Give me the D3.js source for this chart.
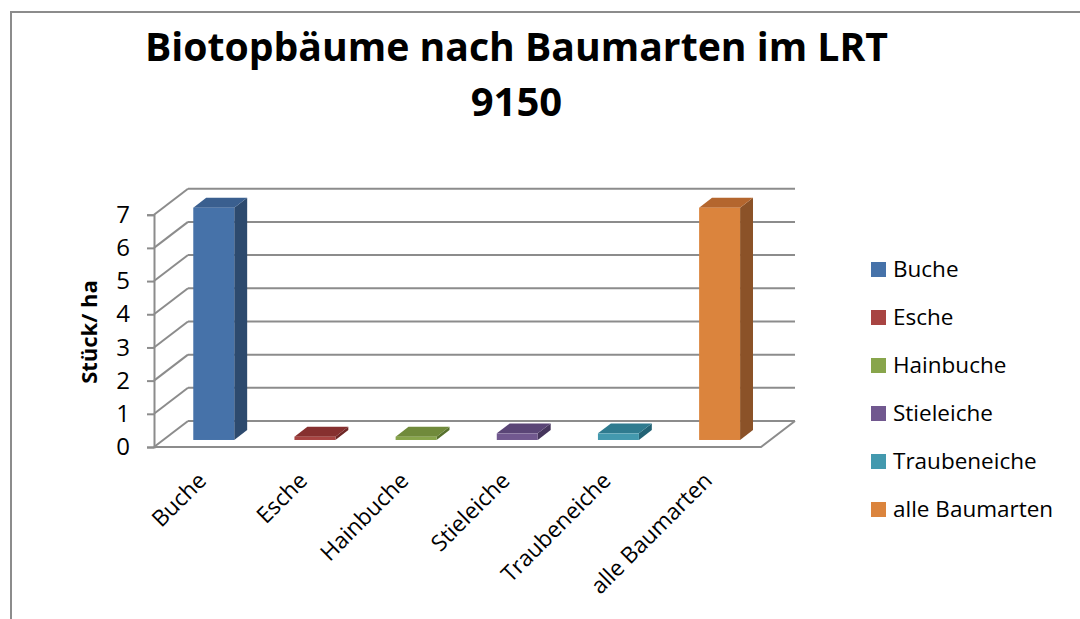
<!DOCTYPE html>
<html>
<head>
<meta charset="utf-8">
<script src="https://cdn.jsdelivr.net/npm/d3@7"></script>
<style>
  body { margin: 0; background: #fff; }
  text { font-family: "Open Sans", sans-serif; fill: #000; }
</style>
</head>
<body>
<div id="chart"></div>
<script>
// Biotopbaeume nach Baumarten - 3D-Saeulen im Excel-Stil
var categories = ['Buche', 'Esche', 'Hainbuche', 'Stieleiche', 'Traubeneiche', 'alle Baumarten'];
var values = [7, 0.1, 0.1, 0.2, 0.2, 7];
var yTicks = [0, 1, 2, 3, 4, 5, 6, 7];
var titleLines = ['Biotopbäume nach Baumarten im LRT', '9150'];
var yTitle = 'Stück/ ha';

var width = 1080,
    height = 619,
    plot = { left: 154, right: 761, bottom: 447, top: 214.7 },
    depth = { dx: 34, dy: -26 },
    barDepth = [0.27, 0.65],
    grid = '#8c8c8c';

var frontShade = ['#4672a9', '#a84442', '#88a54b', '#71588f', '#4399ae', '#db843d'];
var topShade = ['#3a5f8f', '#86302f', '#708a3b', '#5a4576', '#2f7b8f', '#b4662e'];
var sideShade = ['#2d4a6e', '#6e2625', '#56702c', '#45355c', '#236375', '#8b5228'];

var color = d3.scaleOrdinal().domain(categories).range(frontShade);

var svg = d3.select('#chart').append('svg')
    .attr('width', width)
    .attr('height', height);

// Rahmen
svg.append('rect')
    .attr('x', 11).attr('y', 12)
    .attr('width', 1200).attr('height', 800)
    .attr('fill', 'none')
    .attr('stroke', grid)
    .attr('stroke-width', 2);

var x = d3.scaleBand()
    .domain(categories)
    .range([plot.left, plot.right])
    .paddingInner(0.595)
    .paddingOuter(0.2975);

var y = d3.scaleLinear()
    .domain([0, 7])
    .range([plot.bottom, plot.top]);

// Titel
svg.append('g').selectAll('text')
    .data(titleLines)
    .enter().append('text')
    .attr('x', 516.5)
    .attr('y', function(d, i) { return 61 + i * 55; })
    .attr('text-anchor', 'middle')
    .style('font-size', '40px')
    .style('font-weight', 'bold')
    .text(function(d) { return d; })
    .each(function(d, i) {
        if (i === 0) {
            d3.select(this).attr('textLength', 743).attr('lengthAdjust', 'spacingAndGlyphs');
        }
    });

// Gitter: Rueckwand und Seitenwand
var gridG = svg.append('g')
    .attr('stroke', grid)
    .attr('stroke-width', 2)
    .attr('fill', 'none');

gridG.selectAll('.back')
    .data(yTicks)
    .enter().append('line')
    .attr('class', 'back')
    .attr('x1', plot.left + depth.dx)
    .attr('x2', plot.right + depth.dx)
    .attr('y1', function(d) { return y(d) + depth.dy; })
    .attr('y2', function(d) { return y(d) + depth.dy; });

gridG.selectAll('.wall')
    .data(yTicks)
    .enter().append('line')
    .attr('class', 'wall')
    .attr('x1', plot.left)
    .attr('x2', plot.left + depth.dx)
    .attr('y1', function(d) { return y(d); })
    .attr('y2', function(d) { return y(d) + depth.dy; });

// Boden
gridG.append('polyline')
    .attr('points', [
        [plot.left, y(0)],
        [plot.right, y(0)],
        [plot.right + depth.dx, y(0) + depth.dy]
    ].join(' '));

// y-Achse
var yAxis = d3.axisLeft(y)
    .tickValues(yTicks)
    .tickSize(7)
    .tickPadding(17)
    .tickFormat(d3.format('d'));

var yAxisG = svg.append('g')
    .attr('transform', 'translate(' + plot.left + ',0)')
    .call(yAxis);
yAxisG.select('.domain').attr('stroke', grid).attr('stroke-width', 2);
yAxisG.selectAll('.tick line').attr('stroke', grid).attr('stroke-width', 2);
yAxisG.selectAll('.tick text')
    .style('font-size', '24px')
    .style('font-family', '"Open Sans", sans-serif')
    .attr('fill', '#000');

svg.append('text')
    .attr('transform', 'translate(97,332) rotate(-90)')
    .attr('text-anchor', 'middle')
    .style('font-size', '22px')
    .style('font-weight', 'bold')
    .text(yTitle);

// Saeulen
var fx = depth.dx * barDepth[0], fy = depth.dy * barDepth[0];
var bx = depth.dx * barDepth[1], by = depth.dy * barDepth[1];

var bars = svg.append('g').selectAll('g')
    .data(categories)
    .enter().append('g');

bars.each(function(d, i) {
    var g = d3.select(this);
    var x0 = x(d) + fx,
        x1 = x0 + x.bandwidth(),
        yt = y(values[i]) + fy,
        yb = y(0) + fy,
        ox = bx - fx,
        oy = by - fy;
    g.append('polygon')
        .attr('points', [[x1, yt], [x1 + ox, yt + oy], [x1 + ox, yb + oy], [x1, yb]].join(' '))
        .attr('fill', sideShade[i]);
    g.append('polygon')
        .attr('points', [[x0, yt], [x0 + ox, yt + oy], [x1 + ox, yt + oy], [x1, yt]].join(' '))
        .attr('fill', topShade[i]);
    g.append('rect')
        .attr('x', x0)
        .attr('y', yt)
        .attr('width', x1 - x0)
        .attr('height', yb - yt)
        .attr('fill', color(d));
});

// Kategorien
svg.append('g').selectAll('text')
    .data(categories)
    .enter().append('text')
    .attr('transform', function(d) {
        return 'translate(' + (x(d) + x.bandwidth() / 2 + 3) + ',482) rotate(-45)';
    })
    .attr('text-anchor', 'end')
    .style('font-size', '22.5px')
    .text(function(d) { return d; });

// Legende
var legend = svg.append('g').selectAll('g')
    .data(categories)
    .enter().append('g')
    .attr('transform', function(d, i) { return 'translate(871,' + (262 + i * 48) + ')'; });

legend.append('rect')
    .attr('width', 15)
    .attr('height', 15)
    .attr('fill', function(d) { return color(d); });

legend.append('text')
    .attr('x', 22)
    .attr('y', 15)
    .style('font-size', '22.5px')
    .text(function(d) { return d; });
</script>
</body>
</html>
